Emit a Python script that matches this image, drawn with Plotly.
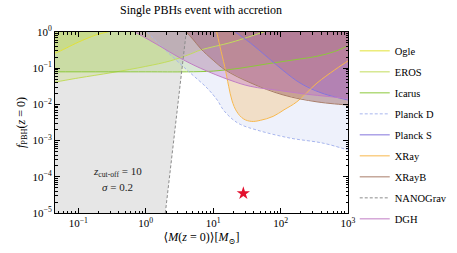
import numpy as np
import plotly.graph_objects as go

# ---------------- data (log10 M [Msun], log10 f_PBH) ----------------
ogle_logm = [-1.45, -1.34, -1.0, -0.75, -0.57, -0.5]
ogle_logf = [-0.63, -0.58, -0.28, -0.09, 0.0, 0.04]

eros_logm = [-1.45, -1.34, -1.0, -0.5, 0.0, 0.36, 0.66, 0.81, 1.28, 1.70, 1.80]
eros_logf = [-1.41, -1.38, -1.27, -1.12, -0.95, -0.80, -0.61, -0.50, -0.28, -0.03, 0.03]

icarus_logm = [-1.45, 0.0, 0.6, 1.0, 1.4, 1.8, 2.2, 2.54, 2.8, 3.0, 3.05]
icarus_logf = [-1.10, -1.10, -1.10, -1.08, -1.00, -0.88, -0.77, -0.67, -0.54, -0.38, -0.33]

planckD_logm = [-0.03, 0.02, 0.36, 0.66, 0.91, 1.06, 1.15, 1.28, 1.40, 1.65, 2.14, 2.63, 3.0, 3.05]
planckD_logf = [0.08, 0.0, -0.62, -1.13, -1.55, -1.88, -2.15, -2.40, -2.55, -2.71, -2.93, -3.07, -3.26, -3.29]

planckS_logm = [1.28, 1.33, 1.55, 1.80, 2.05, 2.29, 2.60, 3.0, 3.05]
planckS_logf = [0.08, 0.0, -0.30, -0.69, -1.08, -1.41, -1.68, -1.88, -1.90]

xray_logm = [1.02, 1.05, 1.10, 1.17, 1.23, 1.28, 1.35, 1.45, 1.57, 1.70, 1.89, 2.05, 2.24, 2.54, 2.80, 3.0, 3.05]
xray_logf = [0.12, 0.0, -0.40, -0.95, -1.50, -1.90, -2.20, -2.40, -2.47, -2.44, -2.33, -2.15, -1.93, -1.41, -1.05, -0.80, -0.74]

xrayB_logm = [0.55, 0.60, 0.70, 0.81, 1.0, 1.18, 1.56, 2.04, 2.54, 3.0, 3.05]
xrayB_logf = [0.10, 0.0, -0.20, -0.45, -0.78, -1.05, -1.41, -1.74, -1.93, -2.02, -2.03]

nano_logm = [0.29, 0.60]
nano_logf = [-5.0, 0.0]

dgh_logm = [-0.22, -0.16, 0.2, 0.51, 0.81, 1.25, 1.55, 2.0, 2.39, 2.7, 3.0, 3.05]
dgh_logf = [0.06, 0.0, -0.38, -0.72, -1.00, -1.33, -1.50, -1.62, -1.72, -1.78, -1.84, -1.85]

event_m = [28.0]
event_f = [3.5e-5]

x_ticks = [0.1, 1, 10, 100, 1000]
x_ticktext = ["10<sup>−1</sup>", "10<sup>0</sup>", "10<sup>1</sup>", "10<sup>2</sup>", "10<sup>3</sup>"]
y_ticks = [1e-5, 1e-4, 1e-3, 1e-2, 1e-1, 1]
y_ticktext = ["10<sup>−5</sup>", "10<sup>−4</sup>", "10<sup>−3</sup>", "10<sup>−2</sup>", "10<sup>−1</sup>", "10<sup>0</sup>"]

XMIN_LOG, XMAX_LOG = np.log10(0.045), 3.0
YMIN_LOG, YMAX_LOG = -5.0, 0.0

FONT = "Liberation Serif, DejaVu Serif, Times New Roman, serif"

fig = go.Figure()

def p(a):
    return [10 ** v for v in a]

def fill_above(lm, lf, color):
    # polygon: curve + region above it up to beyond the top of the axes
    xs = p(lm) + [10 ** (lm[-1]), 10 ** (lm[0])]
    ys = p(lf) + [100.0, 100.0]
    fig.add_trace(go.Scatter(x=xs, y=ys, mode="lines", fill="toself", fillcolor=color,
                             line=dict(width=0, color=color), hoverinfo="skip", showlegend=False))

# NANOGrav: gray region to the left of the line
fig.add_trace(go.Scatter(
    x=[0.01, 10 ** nano_logm[0], 10 ** nano_logm[1], 10 ** (nano_logm[1] + 0.062 * 2), 0.01],
    y=[1e-6, 10 ** nano_logf[0], 10 ** nano_logf[1], 100.0, 100.0],
    mode="lines", fill="toself", fillcolor="rgba(128,128,128,0.20)",
    line=dict(width=0), hoverinfo="skip", showlegend=False))

fill_above(ogle_logm, ogle_logf, "rgba(225,225,60,0.22)")
fill_above(eros_logm, eros_logf, "rgba(185,215,80,0.24)")
fill_above(icarus_logm, icarus_logf, "rgba(140,200,60,0.22)")
fill_above(planckD_logm, planckD_logf, "rgba(160,176,235,0.18)")
fill_above(planckS_logm, planckS_logf, "rgba(125,100,215,0.30)")
fill_above(xray_logm, xray_logf, "rgba(250,180,80,0.30)")
fill_above(xrayB_logm, xrayB_logf, "rgba(135,65,60,0.38)")
fill_above(dgh_logm, dgh_logf, "rgba(185,95,195,0.32)")

def add_line(name, lm, lf, color, dash="solid", width=1.0, shape="spline"):
    fig.add_trace(go.Scatter(x=p(lm), y=p(lf), mode="lines", name=name, legendgroup=name,
                             line=dict(color=color, width=width, dash=dash, shape=shape)))

add_line("Ogle", ogle_logm, ogle_logf, "#e2e236")
add_line("EROS", eros_logm, eros_logf, "#c2dc5c")
add_line("Icarus", icarus_logm, icarus_logf, "#8cc83a")
add_line("Planck D", planckD_logm, planckD_logf, "#a8b6ee", dash="3px,2px")
add_line("Planck S", planckS_logm, planckS_logf, "#8474dc")
add_line("XRay", xray_logm, xray_logf, "#f8b84c")
add_line("XRayB", xrayB_logm, xrayB_logf, "#a87c68")
add_line("NANOGrav", nano_logm, nano_logf, "#8c8c8c", dash="3px,2px", shape="linear")
add_line("DGH", dgh_logm, dgh_logf, "#c07cc4")

fig.add_trace(go.Scatter(x=event_m, y=event_f, mode="markers", showlegend=False,
                         marker=dict(symbol="star", size=10, color="#e3102e", line=dict(width=0))))

fig.add_annotation(x=-0.42, y=-3.88, xref="x", yref="y", showarrow=False,
                   text="<i>z</i><sub>cut-off</sub> = 10", font=dict(family=FONT, size=11, color="#222"))
fig.add_annotation(x=-0.42, y=-4.28, xref="x", yref="y", showarrow=False,
                   text="<i>σ</i> = 0.2", font=dict(family=FONT, size=11, color="#222"))

x_minor = [m * 10.0 ** d for d in range(-2, 3) for m in range(2, 10)]
y_minor = [m * 10.0 ** d for d in range(-6, 0) for m in range(2, 10)]

axis_common = dict(type="log", showgrid=False, zeroline=False, showline=True, linecolor="black",
                   linewidth=1, mirror="ticks", ticks="inside", ticklen=5, tickcolor="black",
                   automargin=False, tickfont=dict(family=FONT, size=11, color="black"))

fig.update_xaxes(range=[XMIN_LOG, XMAX_LOG], tickvals=x_ticks, ticktext=x_ticktext,
                 minor=dict(tickvals=x_minor, ticks="inside", ticklen=2.5, tickcolor="black", showgrid=False),
                 title=dict(text="⟨<i>M</i>(<i>z</i> = 0)⟩[<i>M</i><sub>⊙</sub>]",
                            font=dict(family=FONT, size=12, color="black"), standoff=4),
                 **axis_common)
fig.update_yaxes(range=[YMIN_LOG, YMAX_LOG], tickvals=y_ticks, ticktext=y_ticktext,
                 minor=dict(tickvals=y_minor, ticks="inside", ticklen=2.5, tickcolor="black", showgrid=False),
                 title=dict(text="<i>f</i><sub>PBH</sub>(<i>z</i> = 0)",
                            font=dict(family=FONT, size=12, color="black"), standoff=4),
                 **axis_common)

fig.update_layout(
    width=457, height=253,
    margin=dict(l=55, r=109, t=32, b=40, autoexpand=False),
    paper_bgcolor="white", plot_bgcolor="white",
    title=dict(text="Single PBHs event with accretion", x=0.44, xanchor="center",
               y=0.962, yanchor="middle", font=dict(family=FONT, size=12, color="black")),
    legend=dict(x=1.023, xanchor="left", y=0.976, yanchor="top", font=dict(family=FONT, size=10.5, color="black"),
                tracegroupgap=2, itemwidth=30, bgcolor="rgba(0,0,0,0)", maxheight=240),
    showlegend=True,
)

fig.write_html("out.html", config={"displayModeBar": False},
               post_script="document.body.style.margin='0';")
